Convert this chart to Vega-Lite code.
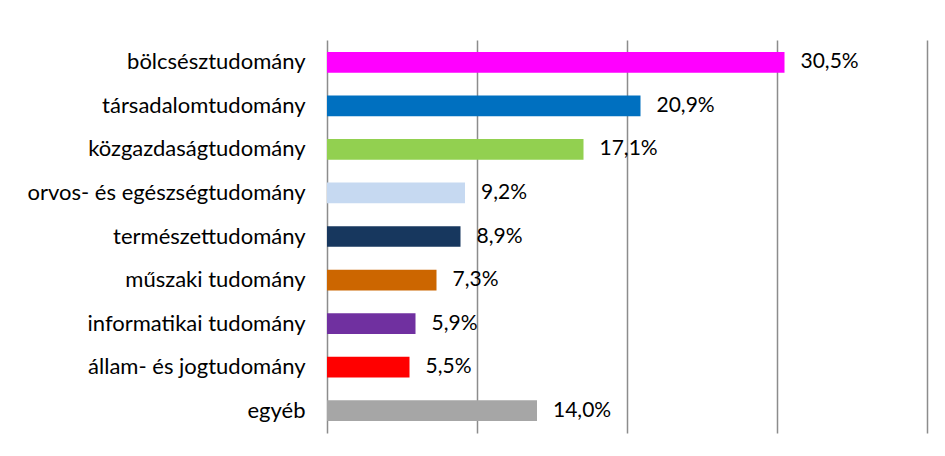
{
  "$schema": "https://vega.github.io/schema/vega-lite/v6.json",
  "autosize": "none",
  "width": 600,
  "height": 393,
  "padding": {"left": 327, "top": 40, "right": 18, "bottom": 23},
  "background": "white",
  "config": {
    "view": {"stroke": null},
    "locale": {"number": {"decimal": ",", "thousands": " ", "grouping": [3], "currency": ["", " Ft"]}},
    "font": "Lato"
  },
  "data": {
    "values": [
      {"field": "bölcsésztudomány", "share": 0.305, "color": "#FF00FF"},
      {"field": "társadalomtudomány", "share": 0.209, "color": "#0070C0"},
      {"field": "közgazdaságtudomány", "share": 0.171, "color": "#92D050"},
      {"field": "orvos- és egészségtudomány", "share": 0.092, "color": "#C6D9F1"},
      {"field": "természettudomány", "share": 0.089, "color": "#17375E"},
      {"field": "műszaki tudomány", "share": 0.073, "color": "#CC6600"},
      {"field": "informatikai tudomány", "share": 0.059, "color": "#7030A0"},
      {"field": "állam- és jogtudomány", "share": 0.055, "color": "#FF0000"},
      {"field": "egyéb", "share": 0.14, "color": "#A6A6A6"}
    ]
  },
  "encoding": {
    "y": {
      "field": "field", "type": "nominal", "sort": null,
      "scale": {"paddingInner": 0.525, "paddingOuter": 0.275},
      "axis": {"title": null, "domain": false, "ticks": false, "labelPadding": 22, "labelFontSize": 22, "labelColor": "#000000", "labelFont": "Lato", "labelLimit": 400}
    },
    "x": {
      "field": "share", "type": "quantitative",
      "scale": {"domain": [0, 0.4], "nice": false},
      "axis": {"title": null, "labels": false, "ticks": false, "domain": false, "values": [0, 0.1, 0.2, 0.3, 0.4], "grid": true, "gridColor": "#8C8C8C", "gridWidth": 1.5}
    }
  },
  "layer": [
    {"mark": {"type": "bar"}, "encoding": {"color": {"field": "color", "type": "nominal", "scale": null}}},
    {"mark": {"type": "text", "align": "left", "baseline": "middle", "dx": 16, "fontSize": 21, "font": "Lato", "color": "#000000"},
     "encoding": {"text": {"field": "share", "type": "quantitative", "format": ".1%"}}}
  ]
}
